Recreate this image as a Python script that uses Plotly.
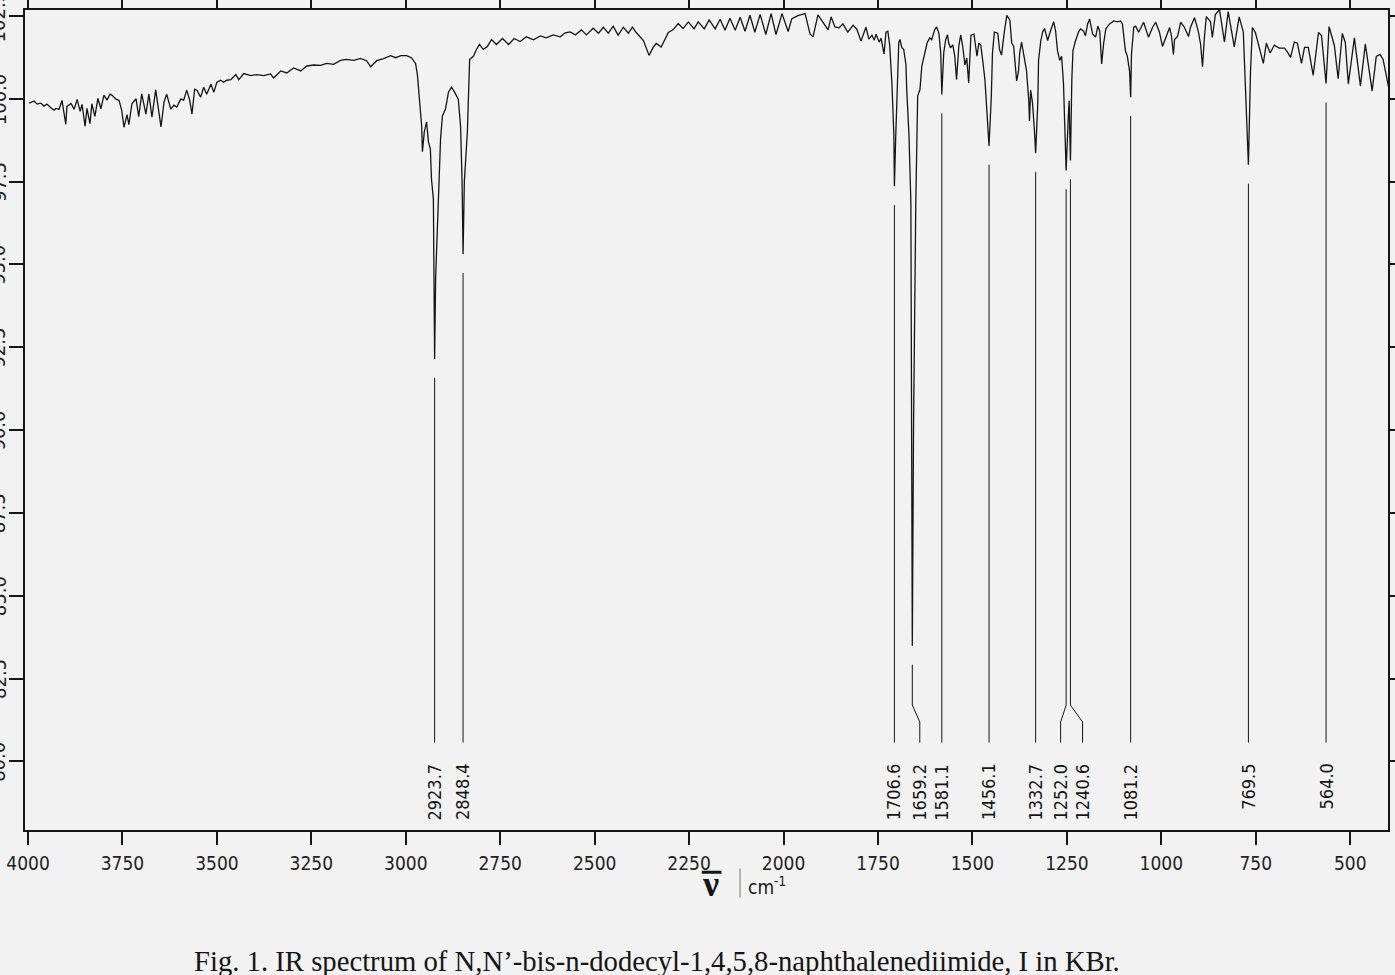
import numpy as np
import plotly.graph_objects as go

# IR spectrum: wavenumber (cm-1) and transmittance as printed on the y axis
wavenumber = [
    3997, 3984, 3976, 3966, 3958, 3950, 3939, 3931, 3926, 3918, 3910, 3900, 3897, 3886, 3878, 3870,
    3862, 3857, 3849, 3844, 3836, 3831, 3823, 3815, 3807, 3799, 3791, 3783, 3778, 3767, 3759, 3752,
    3746, 3738, 3733, 3725, 3714, 3707, 3699, 3688, 3680, 3672, 3662, 3656, 3648, 3640, 3633, 3622,
    3614, 3606, 3596, 3588, 3580, 3572, 3566, 3559, 3553, 3543, 3535, 3527, 3516, 3508, 3500, 3490,
    3482, 3474, 3463, 3450, 3442, 3429, 3410, 3395, 3376, 3358, 3350, 3331, 3315, 3297, 3278, 3262,
    3244, 3225, 3210, 3191, 3173, 3157, 3138, 3120, 3104, 3093, 3085, 3077, 3059,
    3040, 3027, 3013, 2998, 2985, 2974, 2969, 2964, 2958, 2956, 2951, 2945, 2940, 2935, 2932, 2927,
    2925, 2923.7, 2921, 2913, 2908, 2903, 2895, 2887, 2879, 2871, 2866, 2861, 2855, 2851, 2848.4, 2845,
    2837, 2831, 2821, 2813, 2805, 2795, 2784, 2773, 2760, 2744, 2728, 2713, 2697, 2681, 2662, 2644,
    2628, 2610, 2591, 2578, 2565, 2551, 2535, 2522, 2504, 2490, 2477, 2464, 2451, 2438, 2424, 2411,
    2400, 2390, 2371, 2363, 2356, 2345, 2337, 2324, 2305, 2292, 2279, 2266, 2252, 2237, 2226, 2210,
    2197, 2181, 2168, 2155, 2142, 2128, 2115, 2102, 2089, 2076, 2062, 2047, 2033, 2020, 2004, 1988,
    1978, 1962, 1943, 1930, 1922, 1909, 1896, 1882, 1874, 1864, 1853, 1843, 1830, 1816, 1806, 1795,
    1782, 1774, 1766, 1760, 1755, 1747, 1742, 1734, 1729, 1724, 1719, 1713, 1708, 1706.6, 1703, 1698,
    1695, 1692, 1687, 1682, 1676, 1674, 1668, 1663, 1661, 1659.2, 1656, 1650, 1645, 1639, 1634, 1626,
    1620, 1613, 1608, 1600, 1595, 1589, 1584, 1581.1, 1576, 1571, 1566, 1563, 1558, 1552, 1547, 1542,
    1536, 1531, 1526, 1520, 1515, 1510, 1504, 1496, 1491, 1488, 1483, 1478, 1472, 1467, 1462, 1459,
    1456.1, 1450, 1447, 1442, 1433, 1428, 1423, 1415, 1409, 1401, 1396, 1391, 1385, 1383, 1378, 1375,
    1370, 1362, 1357, 1351, 1349, 1346, 1341, 1336, 1332.7, 1327, 1325, 1319, 1314, 1309, 1301, 1293,
    1285, 1280, 1275, 1269, 1264, 1259, 1255, 1252.0, 1246, 1244, 1242.5, 1240.6, 1237, 1234, 1228, 1219,
    1214, 1206, 1201, 1195, 1190, 1187, 1182, 1174, 1168, 1163, 1158, 1153, 1147, 1137, 1126, 1116,
    1108, 1103, 1095, 1090, 1084, 1081.2, 1079, 1073, 1068, 1060, 1047, 1034, 1023, 1015, 1005, 997,
    986, 978, 973, 968, 965, 957, 949, 939, 928, 923, 912, 902, 896, 891, 886, 881,
    870, 865, 857, 846, 833, 823, 807, 794, 783, 778, 769.5, 764, 759, 751, 741, 730,
    722, 712, 701, 688, 674, 666, 658, 648, 640, 629, 621, 611, 598, 584, 576, 564.0,
    556, 542, 532, 521, 513, 505, 489, 473, 460, 442, 431, 421, 413, 405, 397,
]
transmittance = [
    99.87, 99.93, 99.84, 99.87, 99.78, 99.84, 99.72, 99.66, 99.71, 99.68, 99.95, 99.23, 99.77, 99.86, 99.68, 99.98,
    99.62, 99.83, 99.17, 99.71, 99.25, 99.85, 99.47, 100.01, 99.70, 100.11, 99.96, 100.14, 100.11, 99.99, 99.95, 99.65,
    99.14, 99.52, 99.22, 99.85, 100.00, 99.46, 100.15, 99.54, 100.14, 99.45, 100.27, 99.75, 99.15, 99.90, 100.14, 99.69,
    99.81, 99.75, 99.99, 99.96, 100.26, 99.96, 99.54, 100.29, 100.26, 100.05, 100.35, 100.14, 100.44, 100.20, 100.50, 100.56,
    100.50, 100.56, 100.58, 100.73, 100.58, 100.76, 100.70, 100.73, 100.70, 100.75, 100.63, 100.84, 100.78, 100.93, 100.84, 100.99,
    101.02, 101.01, 101.07, 101.04, 101.16, 101.19, 101.16, 101.22, 101.15, 100.97, 101.06, 101.15, 101.21,
    101.30, 101.24, 101.30, 101.30, 101.24, 101.06, 100.70, 100.00, 99.18, 98.40, 99.00, 99.30, 98.70, 98.49, 97.58, 96.98,
    94.60, 92.15, 94.60, 96.98, 98.79, 99.48, 99.69, 100.20, 100.35, 100.20, 100.08, 99.99, 99.17, 97.50, 95.31, 97.50,
    99.00, 101.19, 101.28, 101.49, 101.64, 101.49, 101.58, 101.79, 101.64, 101.82, 101.64, 101.82, 101.73, 101.87, 101.78, 101.90,
    101.84, 101.93, 101.87, 101.99, 102.02, 101.93, 102.08, 101.93, 102.13, 101.98, 102.16, 101.98, 102.19, 101.92, 102.16, 101.98,
    102.16, 102.00, 101.76, 101.52, 101.31, 101.56, 101.67, 101.56, 102.00, 102.09, 102.27, 102.12, 102.32, 102.11, 102.32, 102.11,
    102.38, 102.11, 102.40, 102.07, 102.43, 102.07, 102.46, 102.04, 102.52, 102.01, 102.55, 101.94, 102.57, 101.94, 102.57, 102.03,
    102.42, 102.51, 102.57, 101.96, 101.87, 102.53, 102.32, 102.08, 102.47, 102.17, 102.14, 102.26, 102.01, 102.22, 102.10, 101.74,
    102.16, 101.80, 101.92, 101.77, 101.95, 101.71, 101.83, 101.35, 102.01, 102.04, 101.61, 100.41, 98.90, 97.36, 98.90, 100.89,
    101.70, 101.79, 101.55, 101.49, 101.03, 100.28, 98.89, 96.87, 90.00, 83.49, 90.00, 96.87, 100.09, 100.27, 100.99, 101.45,
    101.69, 101.84, 101.78, 102.08, 102.17, 101.99, 101.39, 100.13, 101.39, 101.78, 101.93, 101.69, 101.54, 101.63, 101.30, 100.58,
    101.60, 101.93, 101.60, 101.02, 101.23, 100.48, 101.92, 101.95, 101.59, 101.29, 101.68, 101.62, 101.08, 100.57, 99.66, 99.18,
    98.58, 100.09, 101.38, 102.01, 101.98, 101.47, 101.32, 102.07, 102.52, 102.37, 101.68, 101.59, 100.78, 100.54, 100.84, 101.38,
    101.71, 101.16, 100.86, 99.96, 99.33, 100.26, 99.87, 99.06, 98.36, 99.87, 101.16, 101.76, 102.03, 102.12, 101.76, 102.06,
    102.33, 102.06, 101.46, 101.16, 101.28, 100.46, 99.26, 97.84, 99.55, 99.94, 99.04, 98.14, 100.55, 101.45, 101.72, 102.02,
    102.11, 102.05, 101.90, 102.26, 102.41, 102.26, 101.96, 101.86, 102.19, 102.04, 101.05, 101.65, 102.11, 102.26, 102.35, 102.32,
    102.35, 102.26, 101.44, 101.29, 100.83, 100.05, 101.35, 102.16, 102.19, 102.01, 102.31, 101.86, 102.16, 102.31, 102.01, 101.58,
    101.94, 102.15, 101.88, 101.34, 101.79, 101.88, 102.31, 102.16, 101.88, 102.15, 102.45, 102.03, 101.64, 100.97, 101.85, 102.48,
    102.33, 101.85, 102.54, 102.69, 101.72, 102.63, 101.57, 102.47, 102.02, 100.33, 98.01, 100.81, 102.15, 102.00, 101.52, 101.07,
    101.68, 101.38, 101.62, 101.53, 101.53, 101.41, 101.25, 101.71, 101.68, 101.07, 101.55, 101.55, 100.71, 102.00, 101.91, 100.46,
    102.18, 101.61, 100.61, 101.97, 101.70, 100.45, 101.84, 100.39, 101.65, 100.24, 101.28, 101.34, 101.19, 100.76, 100.27,
]

# labelled bands and where their labels sit along the axis
peak_wavenumber = [2923.7, 2848.4, 1706.6, 1659.2, 1581.1, 1456.1, 1332.7, 1252.0, 1240.6, 1081.2, 769.5, 564.0]
peak_label = ['2923.7', '2848.4', '1706.6', '1659.2', '1581.1', '1456.1', '1332.7', '1252.0', '1240.6',
              '1081.2', '769.5', '564.0']
label_wavenumber = [2923.7, 2848.4, 1706.6, 1639.4, 1581.1, 1456.1, 1332.7, 1266.6, 1208.5, 1081.2, 769.5, 564.0]

x_ticks = [4000, 3750, 3500, 3250, 3000, 2750, 2500, 2250, 2000, 1750, 1500, 1250, 1000, 750, 500]
y_ticks = [80.0, 82.5, 85.0, 87.5, 90.0, 92.5, 95.0, 97.5, 100.0, 102.5]

ink = '#151515'
paper = '#f2f2f2'
narrow = 'Liberation Sans Narrow, DejaVu Sans Condensed, Arial Narrow, sans-serif'
serif = 'Liberation Serif, Times New Roman, serif'

fig = go.Figure()
fig.add_trace(go.Scatter(x=wavenumber, y=transmittance, mode='lines',
                         line=dict(color=ink, width=1.3), hoverinfo='skip'))

# marker lines running from just under each band down to its label
wn_up = np.array(wavenumber[::-1])
tr_up = np.array(transmittance[::-1])
for pw, lw in zip(peak_wavenumber, label_wavenumber):
    start = np.interp(pw, wn_up, tr_up) - 0.57
    fig.add_trace(go.Scatter(x=[pw, pw, lw, lw], y=[start, 81.70, 81.19, 80.57], mode='lines',
                             line=dict(color=ink, width=1), hoverinfo='skip'))

for lw, txt in zip(label_wavenumber, peak_label):
    fig.add_annotation(x=lw, y=80.0, xref='x', yref='y', text=txt, textangle=-90,
                       showarrow=False, xanchor='center', yanchor='top',
                       font=dict(family=narrow, size=18, color=ink))

# y tick labels, printed sideways and half cut off by the page edge
for v in y_ticks:
    fig.add_annotation(x=-0.0195, y=v, xref='paper', yref='y', text='%.1f' % v, textangle=-90,
                       showarrow=False, xanchor='center', yanchor='middle',
                       font=dict(family=narrow, size=20, color='#222222'))

# axis caption: nu-bar | cm-1
fig.add_annotation(x=0.5030, y=-0.0655, xref='paper', yref='paper', text='<b>ν</b>',
                   showarrow=False, xanchor='center', yanchor='middle',
                   font=dict(family=serif, size=36, color=ink))
fig.add_shape(type='line', xref='paper', yref='paper', x0=0.4965, x1=0.5110, y0=-0.0515, y1=-0.0515,
              line=dict(color=ink, width=3))
fig.add_shape(type='line', xref='paper', yref='paper', x0=0.5246, x1=0.5246, y0=-0.0470, y1=-0.0825,
              line=dict(color='#777777', width=1))
fig.add_annotation(x=0.5290, y=-0.0685, xref='paper', yref='paper', text='cm<sup>-1</sup>',
                   showarrow=False, xanchor='left', yanchor='middle',
                   font=dict(family=narrow, size=19, color=ink))

fig.add_annotation(x=0.4640, y=-0.1598, xref='paper', yref='paper',
                   text='Fig. 1. IR spectrum of N,N’-bis-n-dodecyl-1,4,5,8-naphthalenediimide, I in KBr.',
                   showarrow=False, xanchor='center', yanchor='middle',
                   font=dict(family=serif, size=28.7, color=ink))

fig.update_layout(
    template='none',
    width=1395, height=975,
    margin=dict(l=25, r=7, t=10, b=145),
    paper_bgcolor=paper, plot_bgcolor=paper,
    showlegend=False,
    xaxis=dict(range=[4008, 400], tickvals=x_ticks, ticktext=[str(v) for v in x_ticks],
               ticks='outside', ticklen=13, tickwidth=1.5, tickcolor=ink,
               showline=True, linewidth=2, linecolor=ink, mirror='ticks',
               showgrid=False, zeroline=False, automargin=False, ticklabelstandoff=2,
               tickfont=dict(family=narrow, size=19, color='#222222')),
    yaxis=dict(range=[77.93, 102.68], tickvals=y_ticks, showticklabels=False,
               ticks='outside', ticklen=14, tickwidth=1.5, tickcolor=ink,
               showline=True, linewidth=2, linecolor=ink, mirror='ticks',
               showgrid=False, zeroline=False, automargin=False),
)

# drop the default page margin so the figure fills the window exactly
fig.write_html('out.html', config={'displayModeBar': False},
               post_script="document.body.style.margin='0';"
                           "document.body.style.overflow='hidden';"
                           "document.body.style.background='#f2f2f2';")
